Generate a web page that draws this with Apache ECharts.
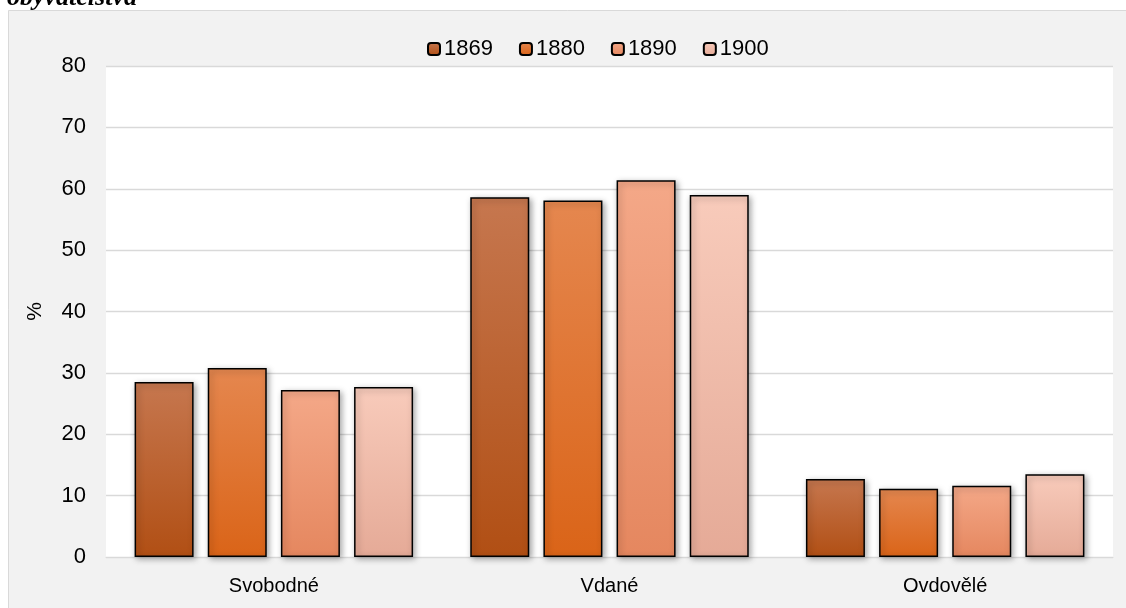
<!DOCTYPE html>
<html><head><meta charset="utf-8">
<script src="https://cdn.jsdelivr.net/npm/echarts@6/dist/echarts.min.js"></script>
<style>html,body{margin:0;padding:0;background:#fff}#c{width:1126px;height:608px}</style>
</head><body><div id="c"></div>
<script>
const categories = ['Svobodné', 'Vdané', 'Ovdovělé'];
const years = ['1869', '1880', '1890', '1900'];
const v1869 = [28.5, 58.6, 12.7];
const v1880 = [30.8, 58.1, 11.1];
const v1890 = [27.2, 61.4, 11.6];
const v1900 = [27.7, 59.0, 13.5];
const yTicks = [0, 10, 20, 30, 40, 50, 60, 70, 80];

const values = [v1869, v1880, v1890, v1900];
const grads = [
  ['#c6774f', '#b14f14'],
  ['#e5874f', '#da6418'],
  ['#f4a888', '#e5875f'],
  ['#f8cbbb', '#e5aa97']
];
const FONT = 'Liberation Sans, Arial, sans-serif';
const chart = echarts.init(document.getElementById('c'));
chart.setOption({
  animation: false,
  textStyle: { fontFamily: FONT },
  graphic: [
    { type: 'rect', z: -10, shape: { x: 8.5, y: 10.5, width: 1200, height: 700 },
      style: { fill: '#f2f2f2', stroke: '#d9d9d9', lineWidth: 1 } },
    { type: 'text', x: 7, y: 11, z: 10,
      style: { text: 'obyvatelstva', verticalAlign: 'bottom', font: 'italic bold 26px "Liberation Serif", "Times New Roman", serif', fill: '#000' } }
  ],
  legend: {
    data: years,
    left: 422, top: 33,
    itemWidth: 12, itemHeight: 12, itemGap: 26,
    textStyle: { fontSize: 22, color: '#000', fontFamily: FONT, padding: [0, 0, 0, -1] }
  },
  grid: { left: 106, right: 13, top: 66, bottom: 51, show: true, backgroundColor: '#fff', borderWidth: 0 },
  xAxis: {
    type: 'category', data: categories,
    axisLine: { lineStyle: { color: '#d9d9d9', width: 1 } },
    axisTick: { show: false },
    axisLabel: { fontSize: 20, color: '#000', margin: 19, fontFamily: FONT }
  },
  yAxis: {
    type: 'value', min: 0, max: 80, interval: 10,
    name: '%', nameLocation: 'middle', nameGap: 60, nameRotate: 90,
    nameTextStyle: { fontSize: 21, color: '#000', fontFamily: FONT },
    axisLine: { show: false }, axisTick: { show: false },
    axisLabel: { fontSize: 22, color: '#000', margin: 20, fontFamily: FONT,
      formatter: v => yTicks.includes(v) ? String(v) : '' },
    splitLine: { lineStyle: { color: '#d9d9d9', width: 1.3 } }
  },
  series: years.map((y, i) => ({
    name: y, type: 'bar', data: values[i],
    barWidth: 59, barGap: '24%', barCategoryGap: '17%',
    itemStyle: {
      color: new echarts.graphic.LinearGradient(0, 0, 0, 1, [
        { offset: 0, color: grads[i][0] }, { offset: 1, color: grads[i][1] }]),
      borderColor: '#000', borderWidth: 1.5,
      shadowBlur: 6, shadowColor: 'rgba(0,0,0,0.35)', shadowOffsetX: 2, shadowOffsetY: 2
    }
  }))
});
</script></body></html>
